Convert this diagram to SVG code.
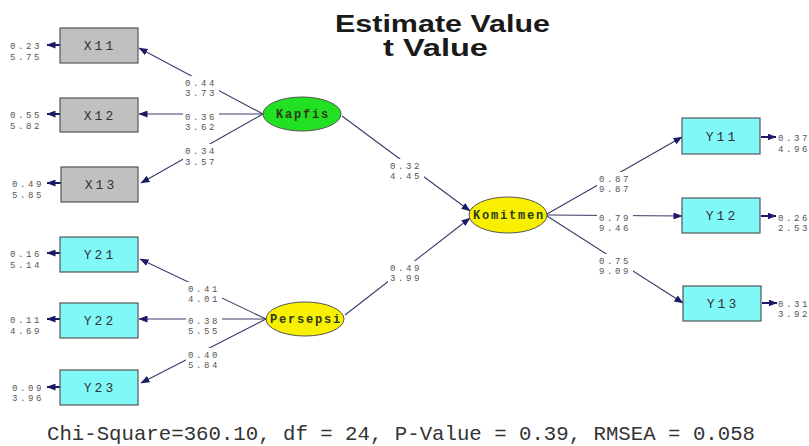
<svg xmlns="http://www.w3.org/2000/svg" width="809" height="446" viewBox="0 0 809 446">
<style>
.bg{fill:#ffffff}
.box{stroke:#555555;stroke-width:1.2}
.gray{fill:#c0c0c0}
.cyan{fill:#80f8f8}
.ell{stroke:#555555;stroke-width:1}
.lbl{font-family:"Liberation Mono",monospace;font-size:13px;letter-spacing:3px;fill:#333333}
.elbl{font-family:"Liberation Mono",monospace;font-size:12px;font-weight:bold;letter-spacing:1.8px;fill:#2e3a1e}
.num{font-family:"Liberation Mono",monospace;font-size:9px;letter-spacing:2.6px;fill:#555555}
.path{stroke:#3a3a6a;stroke-width:1.1;fill:none}
.err{stroke:#1a1a66;stroke-width:2;fill:none}
.gap{fill:#ffffff}
.title{font-family:"Liberation Sans",Arial,sans-serif;font-size:23px;font-weight:bold;fill:#1a1a1a}
.foot{font-family:"Liberation Mono",monospace;font-size:21px;fill:#333333}
</style>
<defs>
<marker id="ah" markerWidth="9" markerHeight="7" refX="8.5" refY="3.5" orient="auto" markerUnits="userSpaceOnUse">
<path d="M0,0 L9,3.5 L0,7 z" fill="#1a1a66"/>
</marker>
</defs>
<rect class="bg" x="0" y="0" width="809" height="446"/>

<g id="title">
<text class="title" x="335" y="32" textLength="215" lengthAdjust="spacingAndGlyphs">Estimate Value</text>
<text class="title" x="383" y="56" textLength="105" lengthAdjust="spacingAndGlyphs">t Value</text>
</g>

<g id="connectors">
<line class="path" x1="263" y1="114" x2="139" y2="48" marker-end="url(#ah)"/>
<line class="path" x1="263" y1="114" x2="139" y2="114" marker-end="url(#ah)"/>
<line class="path" x1="263" y1="114" x2="141" y2="183" marker-end="url(#ah)"/>
<line class="path" x1="266" y1="319" x2="140" y2="259" marker-end="url(#ah)"/>
<line class="path" x1="266" y1="319" x2="139" y2="319" marker-end="url(#ah)"/>
<line class="path" x1="266" y1="319" x2="141" y2="383" marker-end="url(#ah)"/>
<line class="path" x1="342" y1="116" x2="470" y2="211" marker-end="url(#ah)"/>
<line class="path" x1="345" y1="315" x2="470" y2="218" marker-end="url(#ah)"/>
<line class="path" x1="547" y1="214" x2="682" y2="137" marker-end="url(#ah)"/>
<line class="path" x1="547" y1="215" x2="682" y2="216" marker-end="url(#ah)"/>
<line class="path" x1="547" y1="216" x2="683" y2="303" marker-end="url(#ah)"/>
<line class="err" x1="60" y1="45" x2="47" y2="45" marker-end="url(#ah)"/>
<line class="err" x1="60" y1="114" x2="47" y2="114" marker-end="url(#ah)"/>
<line class="err" x1="61" y1="183" x2="47" y2="183" marker-end="url(#ah)"/>
<line class="err" x1="60" y1="253" x2="47" y2="253" marker-end="url(#ah)"/>
<line class="err" x1="60" y1="319" x2="47" y2="319" marker-end="url(#ah)"/>
<line class="err" x1="60" y1="387" x2="47" y2="387" marker-end="url(#ah)"/>
<line class="err" x1="761" y1="137" x2="776" y2="137" marker-end="url(#ah)"/>
<line class="err" x1="761" y1="216" x2="776" y2="216" marker-end="url(#ah)"/>
<line class="err" x1="762" y1="303" x2="777" y2="303" marker-end="url(#ah)"/>

<rect class="gap" x="183" y="76" width="36" height="23"/>
<text class="num" x="185" y="86">0.44</text><text class="num" x="185" y="96">3.73</text>
<rect class="gap" x="183" y="110" width="36" height="23"/>
<text class="num" x="185" y="120">0.36</text><text class="num" x="185" y="130">3.62</text>
<rect class="gap" x="183" y="144" width="36" height="24"/>
<text class="num" x="185" y="154">0.34</text><text class="num" x="185" y="165">3.57</text>
<rect class="gap" x="186" y="282" width="36" height="23"/>
<text class="num" x="188" y="292">0.41</text><text class="num" x="188" y="302">4.01</text>
<rect class="gap" x="186" y="314" width="36" height="23"/>
<text class="num" x="188" y="324">0.38</text><text class="num" x="188" y="334">5.55</text>
<rect class="gap" x="186" y="348" width="36" height="23"/>
<text class="num" x="188" y="358">0.40</text><text class="num" x="188" y="368">5.84</text>
<rect class="gap" x="388" y="159" width="36" height="23"/>
<text class="num" x="390" y="169">0.32</text><text class="num" x="390" y="179">4.45</text>
<rect class="gap" x="388" y="261" width="36" height="23"/>
<text class="num" x="390" y="271">0.49</text><text class="num" x="390" y="281">3.99</text>
<rect class="gap" x="597" y="172" width="36" height="23"/>
<text class="num" x="599" y="182">0.87</text><text class="num" x="599" y="192">9.87</text>
<rect class="gap" x="597" y="211" width="36" height="23"/>
<text class="num" x="599" y="221">0.79</text><text class="num" x="599" y="231">9.46</text>
<rect class="gap" x="597" y="254" width="36" height="23"/>
<text class="num" x="599" y="264">0.75</text><text class="num" x="599" y="274">9.09</text>

<text class="num" x="10" y="49">0.23</text><text class="num" x="10" y="60">5.75</text>
<text class="num" x="10" y="118">0.55</text><text class="num" x="10" y="129">5.82</text>
<text class="num" x="12" y="187">0.49</text><text class="num" x="12" y="198">5.85</text>
<text class="num" x="10" y="257">0.16</text><text class="num" x="10" y="268">5.14</text>
<text class="num" x="10" y="323">0.11</text><text class="num" x="10" y="334">4.69</text>
<text class="num" x="12" y="391">0.09</text><text class="num" x="12" y="401">3.96</text>
<text class="num" x="778" y="141">0.37</text><text class="num" x="778" y="152">4.96</text>
<text class="num" x="778" y="221">0.26</text><text class="num" x="778" y="231">2.53</text>
<text class="num" x="778" y="307">0.31</text><text class="num" x="778" y="317">3.92</text>
</g>

<g id="X11"><rect class="box gray" x="60" y="28" width="78" height="35"/><text class="lbl" x="100" y="50" text-anchor="middle">X11</text></g>
<g id="X12"><rect class="box gray" x="60" y="98" width="78" height="34"/><text class="lbl" x="100" y="120" text-anchor="middle">X12</text></g>
<g id="X13"><rect class="box gray" x="61" y="167" width="77" height="35"/><text class="lbl" x="101" y="189" text-anchor="middle">X13</text></g>
<g id="Y21"><rect class="box cyan" x="60" y="237" width="78" height="35"/><text class="lbl" x="100" y="259" text-anchor="middle">Y21</text></g>
<g id="Y22"><rect class="box cyan" x="60" y="303" width="78" height="35"/><text class="lbl" x="100" y="325" text-anchor="middle">Y22</text></g>
<g id="Y23"><rect class="box cyan" x="60" y="370" width="78" height="35"/><text class="lbl" x="100" y="392" text-anchor="middle">Y23</text></g>
<g id="Y11"><rect class="box cyan" x="682" y="118" width="78" height="36"/><text class="lbl" x="722" y="141" text-anchor="middle">Y11</text></g>
<g id="Y12"><rect class="box cyan" x="682" y="198" width="78" height="35"/><text class="lbl" x="722" y="220" text-anchor="middle">Y12</text></g>
<g id="Y13"><rect class="box cyan" x="683" y="286" width="78" height="35"/><text class="lbl" x="723" y="308" text-anchor="middle">Y13</text></g>

<g id="Kapfis"><ellipse class="ell" cx="302" cy="114" rx="39" ry="17" fill="#22e022"/><text class="elbl" x="303" y="118" text-anchor="middle">Kapfis</text></g>
<g id="Persepsi"><ellipse class="ell" cx="305" cy="319" rx="39" ry="17" fill="#f8f000"/><text class="elbl" x="306" y="323" text-anchor="middle">Persepsi</text></g>
<g id="Komitmen"><ellipse class="ell" cx="508" cy="215" rx="39" ry="18" fill="#f8f000"/><text class="elbl" x="509" y="219" text-anchor="middle">Komitmen</text></g>

<g id="footer">
<text class="foot" x="47" y="440" textLength="708" lengthAdjust="spacingAndGlyphs">Chi-Square=360.10, df = 24, P-Value = 0.39, RMSEA = 0.058</text>
</g>
</svg>
